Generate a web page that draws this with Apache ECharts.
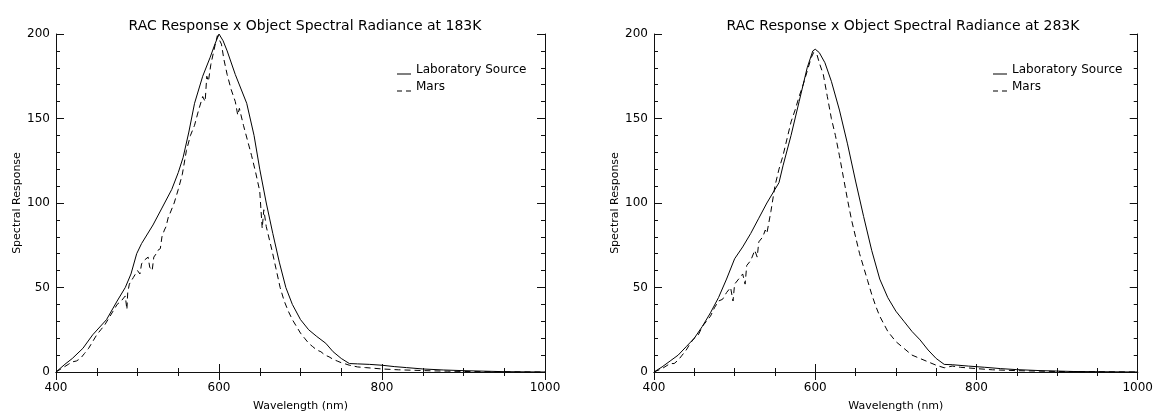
<!DOCTYPE html>
<html><head><meta charset="utf-8">
<script src="https://cdn.jsdelivr.net/npm/echarts@6/dist/echarts.min.js"></script>
<style>html,body{margin:0;padding:0;background:#fff}#c{width:1156px;height:417px}</style>
</head><body><div id="c"></div>
<script>
// ---- Data ----
const titles = ["RAC Response x Object Spectral Radiance at 183K", "RAC Response x Object Spectral Radiance at 283K"];
const seriesNames = ["Laboratory Source", "Mars"];
const xTicks = [400, 600, 800, 1000];
const yTicks = [0, 50, 100, 150, 200];

// 183K, Laboratory Source (solid)
const lab183Wl = [400,411,420,433,445,462,475,485,492,499,505,519,530,542,550,556,563,570,580,589,595,600,605,610,620,634,643,650,658,666,674,682,690,700,710,720,731,740,750,760,770,785,800,815,830,850,875,900,950,1000];
const lab183Val = [0,4.6,8,14,22,31,42,50,58,70,76,87,97,108,118,127,142,159,175,186,194,200,196,190,176,159,140,120,100,82,65,50,40,31,25,21,17,12,8,5,4.8,4.5,4,3.2,2.6,1.8,1.2,0.8,0.2,0];
// 183K, Mars (dashed)
const mars183Wl = [400,405,410,415,420,425,430,435,440,445,450,455,460,465,470,475,480,485,487,488,490,495,500,503,505,508,510,513,515,518,520,523,525,528,530,533,535,538,540,545,550,555,560,565,570,575,580,583,585,587,590,595,598,600,603,606,610,615,620,623,625,630,635,640,645,650,653,655,658,660,665,670,675,680,685,690,695,700,705,710,715,720,725,730,735,740,745,750,755,760,770,780,790,800,820,840,860,880,900,950,1000];
const mars183Val = [0,1.5,3,4.5,6,6.5,8,11,14,18,22,25,28,32,36,40,42,45,37,47,52,56,60,58,64,66,65,68,62,60,68,70,72,73,80,84,86,92,94,100,108,117,131,140,146,155,163,160,175,172,182,193,199,197,194,185,176,167,160,152,156,146,137,128,118,107,85,96,86,82,72,61,50,42,36,31,27,23,20,17,15,13,12,10,9,7.5,6.5,5.5,4.8,4,3,2.6,2.2,1.8,1.3,1,0.7,0.5,0.3,0.1,0];

// 283K, Laboratory Source (solid)
const lab283Wl = [400,410,420,430,440,450,460,470,480,490,500,510,520,530,540,550,555,560,570,580,590,597,600,605,612,620,630,640,650,660,670,680,690,700,710,720,730,740,750,760,770,790,810,830,850,880,920,1000];
const lab283Val = [0,3,6.5,10,15,20,27,35,44,55,67,74,82,91,100,108,112,122,140,160,180,190,191,189,183,172,155,135,113,92,72,55,44,36,30,24,19,13,8,4.5,4.3,3.5,2.8,2,1.4,0.8,0.3,0];
// 283K, Mars (dashed)
const mars283Wl = [400,410,415,420,425,430,435,440,445,450,455,460,465,470,475,480,485,490,495,498,500,505,510,513,515,520,525,528,530,535,538,540,545,550,555,560,565,570,575,580,585,590,595,598,602,605,610,615,620,625,630,635,640,645,650,655,660,665,670,675,680,690,700,710,720,730,740,750,760,770,780,800,820,850,900,1000];
const mars283Val = [0,2,3.5,5,5,7,10,13,17,20,22,27,30,33,38,42,43,47,50,42,52,55,58,52,63,66,72,68,77,80,84,82,95,110,120,128,138,148,155,163,170,178,186,189,188,183,176,163,150,140,128,115,102,90,80,70,62,54,46,39,33,24,18,14,10,8,6,4,2.5,3.5,2.8,2,1.3,0.8,0.3,0];

// ---- Chart ----
const FONT = "DejaVu Sans";
const zip = (a, b) => a.map((v, i) => [v, b[i]]);
const grids = [
  {left: 56, right: 611, top: 34, bottom: 41},
  {left: 654, right: 14, top: 34, bottom: 41}
];
const axisLine = {show: true, lineStyle: {color: '#111', width: 1}};
const xAxes = [], yAxes = [];
grids.forEach((g, i) => {
  const base = {
    type: 'value', gridIndex: i, min: xTicks[0], max: xTicks[xTicks.length - 1], interval: 200,
    axisLine: axisLine, splitLine: {show: false},
    axisTick: {show: true, inside: true, length: 8, lineStyle: {color: '#111'}},
    minorTick: {show: true, splitNumber: 4, length: 4, lineStyle: {color: '#111'}}
  };
  xAxes.push(Object.assign({}, base, {
    position: 'bottom', name: 'Wavelength (nm)', nameLocation: 'middle', nameGap: 29,
    nameTextStyle: {fontFamily: FONT, fontSize: 11, color: '#000'},
    axisLabel: {fontFamily: FONT, fontSize: 12, color: '#000', margin: 10, formatter: v => String(v)}
  }));
  xAxes.push(Object.assign({}, base, {position: 'top', axisLabel: {show: false}}));
  const ybase = {
    type: 'value', gridIndex: i, min: yTicks[0], max: yTicks[yTicks.length - 1], interval: 50,
    axisLine: axisLine, splitLine: {show: false},
    axisTick: {show: true, inside: true, length: 8, lineStyle: {color: '#111'}},
    minorTick: {show: true, splitNumber: 5, length: 4, lineStyle: {color: '#111'}}
  };
  yAxes.push(Object.assign({}, ybase, {
    position: 'left', name: 'Spectral Response', nameLocation: 'middle', nameGap: 33,
    nameTextStyle: {fontFamily: FONT, fontSize: 11, color: '#000'},
    axisLabel: {fontFamily: FONT, fontSize: 12, color: '#000', margin: 6}
  }));
  yAxes.push(Object.assign({}, ybase, {position: 'right', axisLabel: {show: false}}));
});

function mk(name, data, gi, dashed) {
  return {
    name: name, type: 'line', xAxisIndex: gi * 2, yAxisIndex: gi * 2, data: data,
    showSymbol: false, symbol: 'none', animation: false,
    lineStyle: {color: '#000', width: 1, type: dashed ? [6, 4] : 'solid'},
    itemStyle: {color: '#000'}
  };
}

const series = [
  mk(seriesNames[0], zip(lab183Wl, lab183Val), 0, false),
  mk(seriesNames[1], zip(mars183Wl, mars183Val), 0, true),
  mk(seriesNames[0], zip(lab283Wl, lab283Val), 1, false),
  mk(seriesNames[1], zip(mars283Wl, mars283Val), 1, true)
];

// legend samples: the line sits at the bottom of a 14x9 box (a near-invisible speck sets the box top)
const SOLID_ICON = 'path://M0,8h14v1h-14z M0,0h0.01v0.01h-0.01z';
const DASH_ICON = 'path://M0,8h5v1h-5z M9,8h5v1h-5z M0,0h0.01v0.01h-0.01z';
const legendBase = {
  orient: 'vertical', top: 59, itemWidth: 14, itemHeight: 9, itemGap: 5,
  selectedMode: false, symbolKeepAspect: false,
  data: [{name: seriesNames[0], icon: SOLID_ICON}, {name: seriesNames[1], icon: DASH_ICON}],
  itemStyle: {color: '#000', borderWidth: 0},
  textStyle: {fontFamily: FONT, fontSize: 12, color: '#000'}
};

const chart = echarts.init(document.getElementById('c'), null, {renderer: 'canvas'});
chart.setOption({
  backgroundColor: '#fff',
  animation: false,
  title: titles.map((t, i) => ({
    text: t, left: i === 0 ? 300 : 898, top: 14, textAlign: 'center',
    textStyle: {fontFamily: FONT, fontSize: 14, fontWeight: 'normal', color: '#000'}
  })),
  legend: [
    Object.assign({}, legendBase, {left: 392}),
    Object.assign({}, legendBase, {left: 988})
  ],
  grid: grids,
  xAxis: xAxes,
  yAxis: yAxes,
  series: series
});
</script>
</body></html>
